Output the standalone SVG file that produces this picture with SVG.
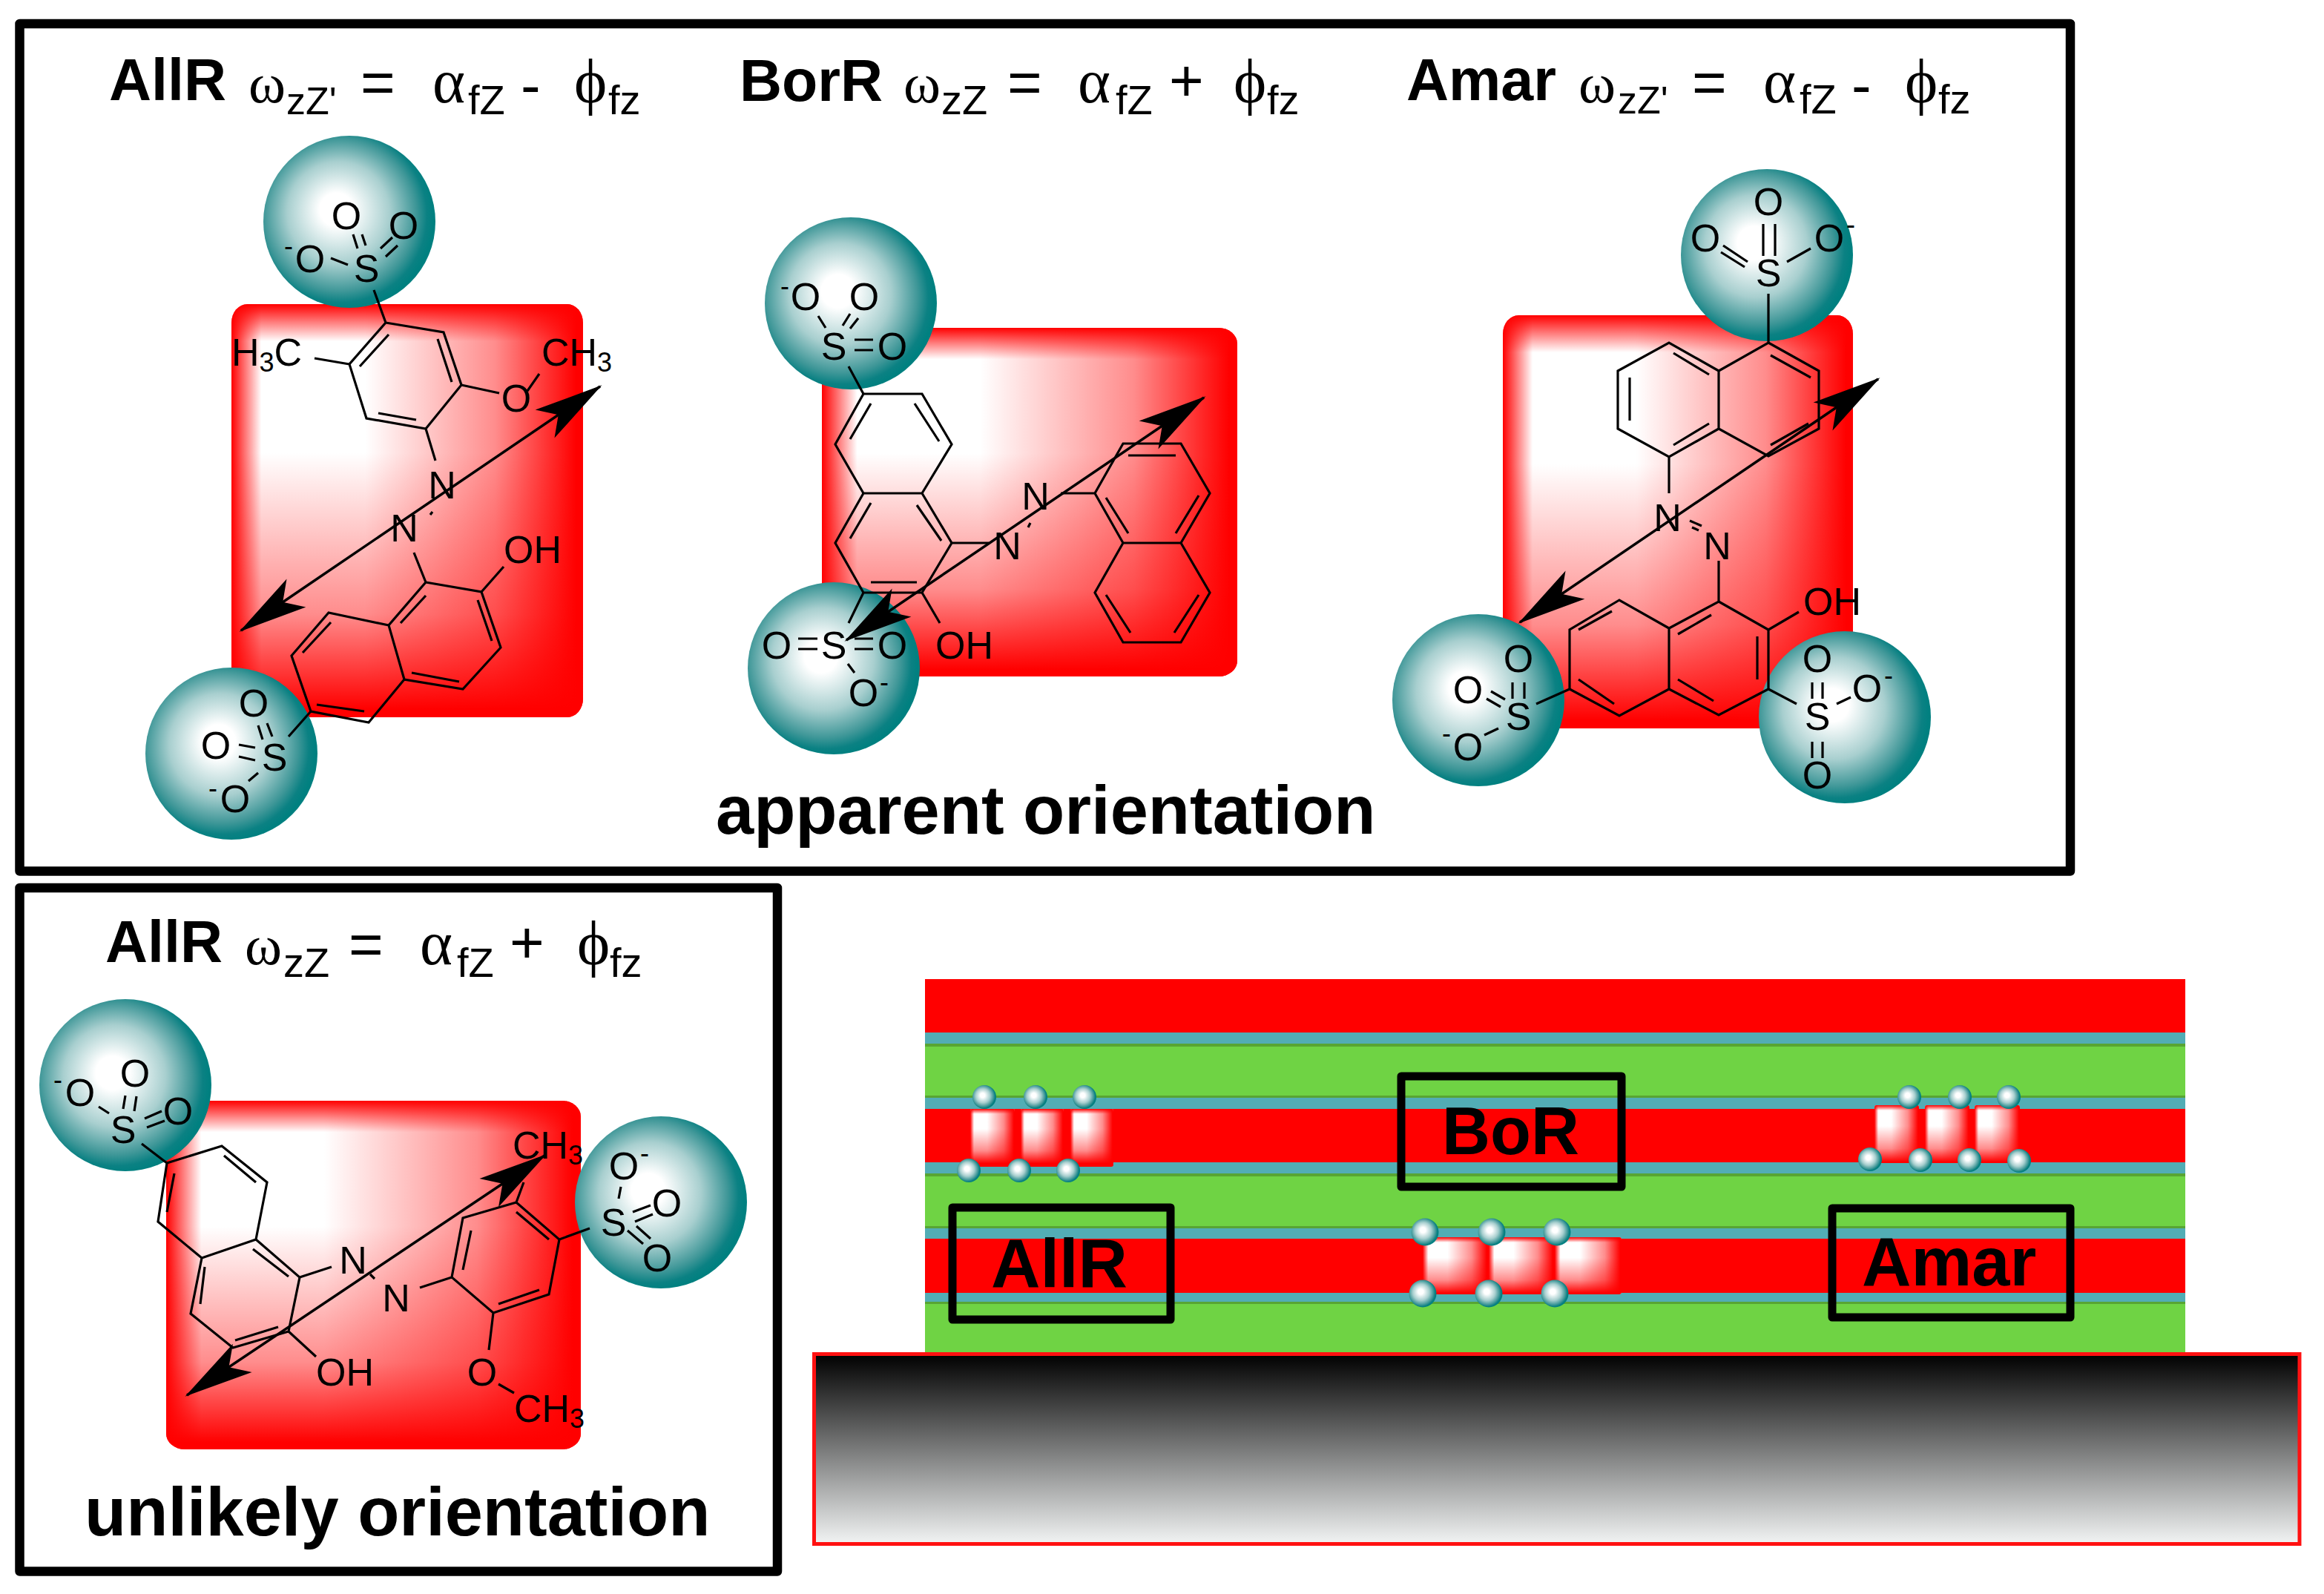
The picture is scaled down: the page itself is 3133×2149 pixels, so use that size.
<svg xmlns="http://www.w3.org/2000/svg" xmlns:xlink="http://www.w3.org/1999/xlink" width="3133" height="2149" viewBox="0 0 3133 2149">
<style>
text{font-family:"Liberation Sans",Arial,sans-serif;fill:#000}
.b{font-weight:bold;font-size:79px}
.t{font-weight:bold;font-size:92px}
.l{font-weight:bold;font-size:92px}
.g{font-family:"Liberation Serif","Times New Roman",serif;font-size:84px}
.w{font-family:"Liberation Serif","Times New Roman",serif;font-size:76px}
.s{font-size:56px}
.p{font-size:52px}
.e{font-size:80px}
.a{font-size:52px;text-anchor:middle}
.c{font-size:52px}
.n{font-size:36px}
.m{font-size:36px;text-anchor:middle}
.bond{fill:none;stroke:#000;stroke-width:3.2}
.frame{fill:none;stroke:#000;stroke-width:12.5;stroke-linejoin:round}
.lab{fill:none;stroke:#000;stroke-width:11;stroke-linejoin:round}
.sph{fill:url(#sg)}
.arrow{stroke:#000;stroke-width:3.5;fill:none;marker-start:url(#ah);marker-end:url(#ah)}
</style>
<defs>
<radialGradient id="sg" cx=".45" cy=".47" r=".54" fx=".42" fy=".42">
<stop offset="0" stop-color="#fff"/><stop offset=".18" stop-color="#fff"/><stop offset=".55" stop-color="#a8cfcf"/><stop offset=".82" stop-color="#3f9798"/><stop offset=".93" stop-color="#0b8183"/><stop offset="1" stop-color="#008080"/>
</radialGradient>
<linearGradient id="gl"><stop offset="0" stop-color="#f00"/><stop offset=".085" stop-color="#f00" stop-opacity="0"/></linearGradient>
<linearGradient id="gr"><stop offset=".38" stop-color="#f00" stop-opacity="0"/><stop offset=".75" stop-color="#f00" stop-opacity=".45"/><stop offset=".98" stop-color="#f00"/></linearGradient>
<linearGradient id="gt" x2="0" y2="1"><stop offset="0" stop-color="#f00"/><stop offset=".09" stop-color="#f00" stop-opacity="0"/></linearGradient>
<linearGradient id="gb" x2="0" y2="1"><stop offset=".36" stop-color="#f00" stop-opacity="0"/><stop offset=".75" stop-color="#f00" stop-opacity=".45"/><stop offset=".98" stop-color="#f00"/></linearGradient>
<linearGradient id="sub" x2="0" y2="1"><stop offset="0" stop-color="#000"/><stop offset="1" stop-color="#f2f4f4"/></linearGradient>
<symbol id="plate" viewBox="0 0 100 100" preserveAspectRatio="none">
<rect width="100" height="100" rx="4.5" fill="#fff"/>
<rect width="100" height="100" rx="4.5" fill="url(#gl)"/>
<rect width="100" height="100" rx="4.5" fill="url(#gr)"/>
<rect width="100" height="100" rx="4.5" fill="url(#gt)"/>
<rect width="100" height="100" rx="4.5" fill="url(#gb)"/>
</symbol>
<marker id="ah" viewBox="-95 -25 100 50" refX="0" refY="0" markerWidth="100" markerHeight="50" markerUnits="userSpaceOnUse" orient="auto-start-reverse">
<path d="M3 0L-90 -23L-68 0L-90 23Z" fill="#000"/>
</marker>
</defs>
<rect width="3133" height="2149" fill="#fff"/>

<g id="frames">
<rect class="frame" x="26.5" y="32" width="2764.5" height="1142.5"/>
<rect class="frame" x="26.5" y="1197" width="1021.5" height="921.5"/>
</g>

<g id="mol-allr">
<use href="#plate" x="312" y="410" width="474" height="557"/>
<circle class="sph" cx="471" cy="299" r="116"/>
<circle class="sph" cx="312" cy="1016" r="116"/>
<path class="bond" d="M520 435L598 448L622 519L574 578L494 564L471 491ZM485 494L524 451M590 457L609 515M510 557L561 566M504 391L520 435M424 483L471 491M622 519L673 530M711 527L727 504M574 578L587 621M558 745L574 785M574 785L649 798L675 873L624 929L545 916L524 843ZM524 843L443 826L393 884L419 959L497 974L545 916M540 840L574 803M644 809L663 864M555 907L619 919M408 880L446 839M427 950L491 959M649 798L679 764M419 959L389 993M580 694L583 690M476 316L482 335M488 316L493 331M513 335L529 320M520 346L536 331M446 348L469 357M348 978L354 997M360 975L367 993M322 1004L344 1008M322 1020L344 1025M348 1042L335 1053"/>
<text class="c" x="312" y="493">H<tspan class="n" dy="8">3</tspan><tspan dy="-8">C</tspan></text>
<text class="c" x="730" y="493">CH<tspan class="n" dy="8">3</tspan></text>
<text class="a" x="696" y="555">O</text>
<text class="a" x="596" y="672">N</text>
<text class="a" x="545" y="730">N</text>
<text class="c" x="679" y="759">OH</text>
<text class="a" x="494" y="380">S</text><text class="a" x="467" y="309">O</text><text class="a" x="544" y="322">O</text><text class="a" x="418" y="367">O</text><text class="m" x="389" y="344">-</text>
<text class="a" x="370" y="1039">S</text><text class="a" x="342" y="966">O</text><text class="a" x="291" y="1023">O</text><text class="a" x="317" y="1095">O</text><text class="m" x="287" y="1075">-</text>
</g>
<g id="eq-allr">
<text class="b" x="147" y="135">AllR</text><text class="w" x="335" y="138">ω</text><text class="p" x="386" y="154">zZ'</text><text class="e" x="486" y="138">=</text><text class="g" x="583" y="138">α</text><text class="s" x="631" y="154">fZ</text><text class="e" x="702" y="142">-</text><text class="g" x="774" y="138">ϕ</text><text class="s" x="820" y="154">fz</text>
</g>

<g id="mol-borr">
<use href="#plate" x="1108" y="442" width="560" height="470"/>
<circle class="sph" cx="1147" cy="409" r="116"/>
<circle class="sph" cx="1124" cy="901" r="116"/>
<path class="bond" d="M1164 531L1243 531L1283 599L1243 665L1164 665L1126 599ZM1243 665L1283 732L1243 799L1164 799L1126 732L1164 665M1476 665L1514 598L1592 598L1631 665L1592 732L1514 732ZM1514 732L1476 799L1514 866L1592 866L1631 799L1592 732M1174 544L1146 592M1233 544L1266 595M1174 678L1146 726M1236 681L1269 729M1174 785L1236 785M1521 614L1585 614M1491 671L1521 719M1616 668L1585 719M1491 802L1524 853M1616 802L1583 853M1164 531L1144 494M1283 732L1333 732M1430 665L1476 665M1164 799L1144 840M1243 799L1267 840M1386 711L1389 705M1152 458L1177 458M1152 472L1177 472M1136 439L1146 423M1146 443L1157 429M1103 426L1113 442M1076 861L1102 861M1076 875L1102 875M1152 861L1177 861M1152 875L1177 875M1143 895L1152 907"/>
<text class="a" x="1396" y="687">N</text><text class="a" x="1358" y="754">N</text>
<text class="c" x="1261" y="888">OH</text>
<text class="a" x="1124" y="485">S</text><text class="a" x="1086" y="418">O</text><text class="m" x="1058" y="398">-</text><text class="a" x="1165" y="418">O</text><text class="a" x="1203" y="485">O</text>
<text class="a" x="1124" y="888">S</text><text class="a" x="1047" y="888">O</text><text class="a" x="1203" y="888">O</text><text class="a" x="1164" y="952">O</text><text class="m" x="1192" y="932">-</text>
</g>
<g id="eq-borr">
<text class="b" x="997" y="136">BorR</text><text class="w" x="1218" y="138">ω</text><text class="s" x="1269" y="154">zZ</text><text class="e" x="1358" y="138">=</text><text class="g" x="1453" y="138">α</text><text class="s" x="1504" y="154">fZ</text><text class="e" x="1576" y="136">+</text><text class="g" x="1663" y="138">ϕ</text><text class="s" x="1708" y="154">fz</text>
</g>

<g id="mol-amar">
<use href="#plate" x="2026" y="425" width="472" height="557"/>
<circle class="sph" cx="2382" cy="344" r="116"/>
<circle class="sph" cx="1993" cy="944" r="116"/>
<circle class="sph" cx="2487" cy="967" r="116"/>
<path class="bond" d="M2384 462L2452 500L2452 578L2384 615L2317 578L2317 500ZM2317 500L2250 462L2181 500L2181 578L2250 616L2317 578M2387 479L2441 509M2387 600L2438 571M2256 476L2304 505M2197 509L2197 567M2256 600L2304 571M2250 616L2250 665M2278 702L2294 709M2281 711L2290 715M2317 756L2317 811M2317 811L2384 849L2384 929L2317 964L2250 929L2250 847ZM2250 847L2183 809L2116 849L2116 929L2183 965L2250 929M2262 855L2307 829M2369 858L2369 916M2262 916L2310 945M2128 849L2173 824M2128 916L2176 949M2384 849L2425 825M2384 929L2422 949M2116 929L2071 949M2377 302L2377 345M2393 302L2393 345M2323 331L2356 353M2320 340L2352 360M2409 353L2441 335M2384 396L2384 462M2443 920L2443 942M2457 920L2457 942M2443 1000L2443 1022M2457 1000L2457 1022M2476 949L2495 940M2039 920L2039 942M2055 920L2055 942M2004 942L2023 953M2010 932L2029 943M2001 991L2020 982"/>
<text class="a" x="2248" y="716">N</text><text class="a" x="2315" y="754">N</text>
<text class="c" x="2431" y="829">OH</text>
<text class="a" x="2384" y="386">S</text><text class="a" x="2384" y="290">O</text><text class="a" x="2299" y="339">O</text><text class="a" x="2466" y="339">O</text><text class="m" x="2495" y="315">-</text>
<text class="a" x="2450" y="984">S</text><text class="a" x="2450" y="906">O</text><text class="a" x="2517" y="946">O</text><text class="m" x="2546" y="923">-</text><text class="a" x="2450" y="1063">O</text>
<text class="a" x="2047" y="984">S</text><text class="a" x="2047" y="906">O</text><text class="a" x="1979" y="948">O</text><text class="a" x="1979" y="1025">O</text><text class="m" x="1950" y="1001">-</text>
</g>
<g id="eq-amar">
<text class="b" x="1896" y="135">Amar</text><text class="w" x="2128" y="138">ω</text><text class="p" x="2181" y="153">zZ'</text><text class="e" x="2281" y="138">=</text><text class="g" x="2377" y="138">α</text><text class="s" x="2426" y="153">fZ</text><text class="e" x="2496" y="142">-</text><text class="g" x="2568" y="138">ϕ</text><text class="s" x="2613" y="153">fz</text>
</g>
<text id="cap-apparent" class="t" x="965" y="1124">apparent orientation</text>

<g id="mol-allr-unlikely">
<use href="#plate" x="224" y="1484" width="559" height="470"/>
<circle class="sph" cx="169" cy="1463" r="116"/>
<circle class="sph" cx="891" cy="1621" r="116"/>
<path class="bond" d="M225 1568L299 1545L360 1594L345 1671L272 1696L213 1647ZM345 1671L404 1722L389 1795L314 1817L257 1771L272 1696M302 1558L345 1594M235 1582L225 1634M341 1684L389 1721M276 1708L270 1758M317 1807L375 1789M404 1722L447 1708M499 1718L505 1724M566 1736L609 1722M609 1722L624 1642L696 1621L754 1671L740 1745L665 1770ZM624 1712L635 1659M696 1634L740 1671M672 1758L727 1739M754 1671L795 1656M696 1621L706 1594M665 1770L659 1820M672 1866L693 1878M389 1795L426 1829M191 1542L225 1568M169 1477L166 1495M184 1478L181 1498M195 1508L218 1498M198 1520L222 1511M133 1492L147 1501M834 1616L837 1600M853 1634L877 1625M856 1647L880 1637M846 1659L867 1677M858 1653L877 1670"/>
<text class="a" x="476" y="1717">N</text><text class="a" x="534" y="1768">N</text>
<text class="c" x="691" y="1562">CH<tspan class="n" dy="8">3</tspan></text>
<text class="a" x="650" y="1868">O</text>
<text class="c" x="693" y="1917">CH<tspan class="n" dy="8">3</tspan></text>
<text class="c" x="426" y="1868">OH</text>
<text class="a" x="166" y="1541">S</text><text class="a" x="182" y="1465">O</text><text class="a" x="240" y="1516">O</text><text class="a" x="108" y="1491">O</text><text class="m" x="78" y="1468">-</text>
<text class="a" x="827" y="1666">S</text><text class="a" x="841" y="1590">O</text><text class="m" x="869" y="1567">-</text><text class="a" x="899" y="1640">O</text><text class="a" x="886" y="1714">O</text>
</g>
<g id="eq-unlikely">
<text class="b" x="142" y="1297">AllR</text><text class="w" x="330" y="1300">ω</text><text class="s" x="382" y="1317">zZ</text><text class="e" x="470" y="1300">=</text><text class="g" x="566" y="1300">α</text><text class="s" x="616" y="1317">fZ</text><text class="e" x="687" y="1298">+</text><text class="g" x="778" y="1300">ϕ</text><text class="s" x="822" y="1317">fz</text>
</g>
<text id="cap-unlikely" class="t" x="114" y="2070">unlikely orientation</text>

<g id="film">
<rect x="1247" y="1320" width="1699" height="503" fill="#6fd344"/>
<rect x="1247" y="1320" width="1699" height="72" fill="#f00"/>
<g fill="#52adb5">
<rect x="1247" y="1392" width="1699" height="15"/>
<rect x="1247" y="1480" width="1699" height="15"/>
<rect x="1247" y="1567" width="1699" height="15"/>
<rect x="1247" y="1656" width="1699" height="14"/>
<rect x="1247" y="1743" width="1699" height="12"/>
</g>
<g fill="#58a533">
<rect x="1247" y="1407" width="1699" height="4"/>
<rect x="1247" y="1477" width="1699" height="3"/>
<rect x="1247" y="1582" width="1699" height="4"/>
<rect x="1247" y="1653" width="1699" height="3"/>
<rect x="1247" y="1755" width="1699" height="3"/>
</g>
<g fill="#f00">
<rect x="1247" y="1495" width="1699" height="72"/>
<rect x="1247" y="1670" width="1699" height="73"/>
</g>
</g>
<rect id="substrate" x="1097.5" y="1825.5" width="2002.5" height="256" fill="url(#sub)" stroke="#f11" stroke-width="5"/>

<g id="dyes-allr">
<rect x="1308" y="1495" width="193" height="78" fill="#f00" rx="3"/>
<use href="#plate" x="1308" y="1495" width="60" height="75"/><use href="#plate" x="1376" y="1495" width="58" height="75"/><use href="#plate" x="1443" y="1495" width="58" height="75"/>
<circle class="sph" cx="1327" cy="1479" r="16"/><circle class="sph" cx="1396" cy="1479" r="16"/><circle class="sph" cx="1462" cy="1479" r="16"/>
<circle class="sph" cx="1306" cy="1578" r="16"/><circle class="sph" cx="1374" cy="1578" r="16"/><circle class="sph" cx="1440" cy="1578" r="16"/>
</g>
<g id="dyes-borr">
<use href="#plate" x="1918" y="1668" width="88" height="77"/><use href="#plate" x="2007" y="1668" width="88" height="77"/><use href="#plate" x="2096" y="1668" width="90" height="77"/>
<circle class="sph" cx="1921" cy="1661" r="18.5"/><circle class="sph" cx="2011" cy="1661" r="18.5"/><circle class="sph" cx="2099" cy="1661" r="18.5"/>
<circle class="sph" cx="1918" cy="1744" r="18.5"/><circle class="sph" cx="2007" cy="1744" r="18.5"/><circle class="sph" cx="2096" cy="1744" r="18.5"/>
</g>
<g id="dyes-amar">
<use href="#plate" x="2527" y="1490" width="60" height="78"/><use href="#plate" x="2595" y="1490" width="60" height="78"/><use href="#plate" x="2662" y="1490" width="61" height="78"/>
<circle class="sph" cx="2574" cy="1479" r="16"/><circle class="sph" cx="2642" cy="1479" r="16"/><circle class="sph" cx="2708" cy="1479" r="16"/>
<circle class="sph" cx="2521" cy="1563" r="16"/><circle class="sph" cx="2589" cy="1564" r="16"/><circle class="sph" cx="2655" cy="1564" r="16"/><circle class="sph" cx="2722" cy="1565" r="16"/>
</g>

<g id="label-bor"><rect class="lab" x="1889" y="1451" width="297" height="149"/><text class="l" x="1944" y="1556" style="font-size:90px">BoR</text></g>
<g id="label-allr"><rect class="lab" x="1284" y="1628" width="294" height="151"/><text class="l" x="1336" y="1735">AllR</text></g>
<g id="label-amar"><rect class="lab" x="2470" y="1629" width="321" height="147"/><text class="l" x="2510" y="1733">Amar</text></g>

<g id="connectors">
<line class="arrow" x1="325" y1="850" x2="809" y2="521"/>
<line class="arrow" x1="1141" y1="863" x2="1623" y2="536"/>
<line class="arrow" x1="2049" y1="839" x2="2532" y2="511"/>
<line class="arrow" x1="252" y1="1881" x2="734" y2="1558"/>
</g>
</svg>
